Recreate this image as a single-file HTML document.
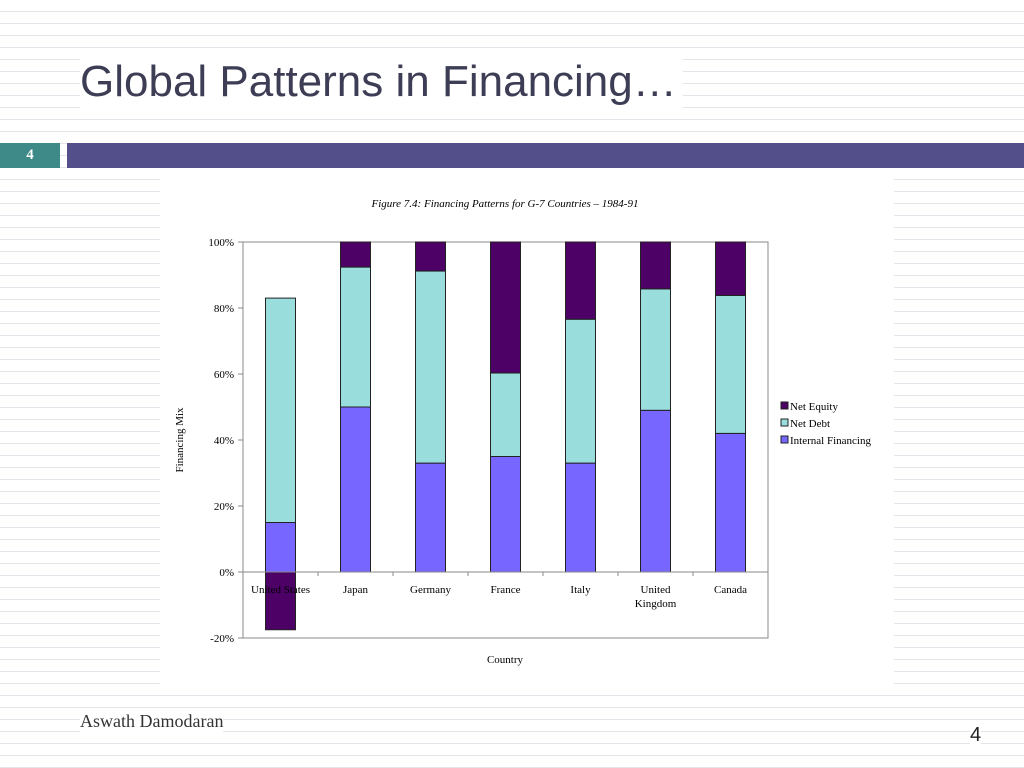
<!DOCTYPE html>
<html><head><meta charset="utf-8"><style>
body{margin:0;width:1024px;height:768px;overflow:hidden;background:#fff;position:relative;font-family:"Liberation Sans",sans-serif;}
.bg{position:absolute;left:0;top:0;width:1024px;height:768px;background-image:repeating-linear-gradient(to bottom,transparent 0,transparent 11px,#e4e4ea 11px,#e4e4ea 12px);}
</style></head><body>
<div class="bg"></div>
<div style="position:absolute;left:80px;top:52px;font-size:44px;color:#3d3d55;background:#fff;padding-right:6px;line-height:60px;">Global Patterns in Financing…</div>
<div style="position:absolute;left:0;top:143px;width:60px;height:25px;background:#3e8a88;color:#fff;font:bold 15px 'Liberation Serif',serif;text-align:center;line-height:25px;">4</div>
<div style="position:absolute;left:67px;top:143px;width:957px;height:25px;background:#524f8a;"></div>
<div style="position:absolute;left:160px;top:176px;width:734px;height:512px;background:#fff;"></div>
<div style="position:absolute;left:80px;top:711px;font:18px 'Liberation Serif',serif;color:#333;background:#fff;">Aswath Damodaran</div>
<div style="position:absolute;left:970px;top:724px;font:20px 'Liberation Sans',sans-serif;color:#222;background:#fff;">4</div>
<svg id="chart" width="1024" height="768" style="position:absolute;left:0;top:0" font-family="Liberation Serif, serif"></svg>
<script>
const categories=["United States","Japan","Germany","France","Italy","United|Kingdom","Canada"];
const internalFin=[15,50,33,35,33,49,42];
const netDebt=[68,42.4,58.2,25.3,43.6,36.8,41.8];
const netEquity=[-17.5,7.6,8.8,39.7,23.4,14.2,16.2];
const yTicks=[100,80,60,40,20,0,-20];
const NS="http://www.w3.org/2000/svg";
const svg=document.getElementById('chart');
const L=243,R=768,T=242,B=638;
const y=v=>T+(100-v)*(B-T)/120;
const bw=(R-L)/categories.length;
const xc=i=>L+bw*(i+0.5);
function mk(t,a,p){const e=document.createElementNS(NS,t);for(const k in a)e.setAttribute(k,a[k]);(p||svg).appendChild(e);return e;}
let e;
e=mk('rect',{x:L,y:T,width:R-L,height:B-T,fill:'#fff',stroke:'#888','stroke-width':1});


e=mk('text',{x:505,y:207,'font-size':11,'font-style':'italic','text-anchor':'middle',fill:'#000'});e.textContent='Figure 7.4: Financing Patterns for G-7 Countries – 1984-91';


yTicks.forEach(t=>{
 const g=mk('text',{x:234,y:y(t)+4,'font-size':11,'text-anchor':'end',fill:'#000'});g.textContent=t+'%';
 
 
 mk('line',{x1:L-5,x2:L,y1:y(t),y2:y(t),stroke:'#888'});
});
const cols=['#7766ff','#99dddd','#4d0066'];
const bar=30;
categories.forEach((c,i)=>{
 const x=xc(i)-bar/2;
 const segs=[[0,internalFin[i],0,'bar-internal'],[internalFin[i],internalFin[i]+netDebt[i],1,'bar-net-debt']];
 if(netEquity[i]<0)segs.push([netEquity[i],0,2,'bar-net-equity']);else segs.push([internalFin[i]+netDebt[i],internalFin[i]+netDebt[i]+netEquity[i],2,'bar-net-equity']);
 segs.forEach(s=>{
  const r=mk('rect',{x:x,y:y(Math.max(s[0],s[1])),width:bar,height:Math.abs(y(s[0])-y(s[1])),fill:cols[s[2]],stroke:'#222','stroke-width':1});
  
  
 });
});
mk('line',{x1:L,x2:R,y1:y(0),y2:y(0),stroke:'#888'});
for(let i=1;i<categories.length;i++)mk('line',{x1:L+bw*i,x2:L+bw*i,y1:y(0),y2:y(0)+4,stroke:'#888'});
categories.forEach((c,i)=>{
 c.split('|').forEach((s,j)=>{
  const t=mk('text',{x:xc(i),y:y(0)+21+j*14,'font-size':11,'text-anchor':'middle',fill:'#000'});t.textContent=s;
  
  
 });
});
e=mk('text',{x:505,y:663,'font-size':11,'text-anchor':'middle'});e.textContent='Country';


e=mk('text',{x:0,y:0,'font-size':11,'text-anchor':'middle',transform:'translate(183,440) rotate(-90)'});e.textContent='Financing Mix';


const legend=[['Net Equity',2],['Net Debt',1],['Internal Financing',0]];
legend.forEach((l,j)=>{
 const g=mk('g',{});
 
 
 mk('rect',{x:781,y:402+j*17,width:7,height:7,fill:cols[l[1]],stroke:'#222','stroke-width':1},g);
 const t=mk('text',{x:790,y:410+j*17,'font-size':11},g);t.textContent=l[0];
});
</script>
</body></html>
